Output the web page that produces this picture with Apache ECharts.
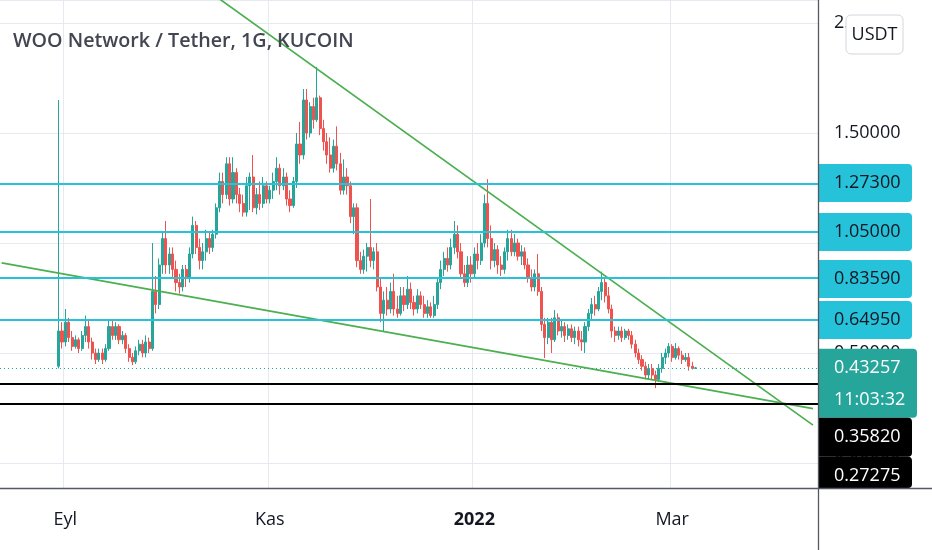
<!DOCTYPE html>
<html><head><meta charset="utf-8">
<script src="https://cdn.jsdelivr.net/npm/echarts@6/dist/echarts.min.js"></script>
<style>html,body{margin:0;padding:0;background:#fff;overflow:hidden}#c{width:932px;height:550px}</style>
</head><body><div id="c"></div>
<script>
const titleText = 'WOO Network / Tether, 1G, KUCOIN';
const axisStart = '2021-08-13';
const axisDays = 244;
const firstCandle = '2021-08-30';
// [open, close, low, high]
const ohlcAug = [[0.44,0.60,0.43,1.65],[0.60,0.55,0.52,0.64]];
const ohlcSep = [
[0.55,0.64,0.53,0.70],[0.64,0.57,0.55,0.66],[0.57,0.53,0.51,0.60],[0.53,0.56,0.52,0.58],[0.56,0.52,0.50,0.57],
[0.52,0.58,0.51,0.60],[0.58,0.62,0.55,0.67],[0.62,0.55,0.52,0.65],[0.55,0.50,0.47,0.57],[0.50,0.47,0.45,0.52],
[0.47,0.50,0.46,0.52],[0.50,0.47,0.45,0.52],[0.47,0.52,0.46,0.54],[0.52,0.62,0.51,0.65],[0.62,0.58,0.56,0.65],
[0.58,0.62,0.56,0.64],[0.62,0.56,0.54,0.63],[0.56,0.58,0.54,0.60],[0.58,0.52,0.50,0.59],[0.52,0.48,0.46,0.54],
[0.48,0.46,0.445,0.50],[0.46,0.51,0.45,0.53],[0.51,0.54,0.49,0.56],[0.54,0.50,0.48,0.56],[0.50,0.55,0.48,0.58],
[0.55,0.52,0.50,0.57],[0.52,0.78,0.51,1.00],[0.78,0.72,0.68,0.85],[0.72,0.90,0.70,0.93],[0.90,1.02,0.86,1.05]];
const ohlcOct = [
[1.02,0.90,0.86,1.10],[0.90,0.95,0.86,0.98],[0.95,0.88,0.84,0.98],[0.88,0.82,0.78,0.92],[0.82,0.80,0.77,0.86],
[0.80,0.88,0.78,0.90],[0.88,0.84,0.80,0.90],[0.84,0.95,0.82,0.98],[0.95,1.08,0.93,1.12],[1.08,0.98,0.95,1.10],
[0.98,0.92,0.88,1.02],[0.92,0.96,0.88,1.00],[0.96,1.02,0.92,1.06],[1.02,0.98,0.95,1.05],[0.98,1.04,0.96,1.06],
[1.04,1.16,1.02,1.18],[1.16,1.28,1.14,1.32],[1.28,1.22,1.18,1.32],[1.22,1.36,1.20,1.39],[1.36,1.20,1.17,1.39],
[1.20,1.32,1.18,1.39],[1.32,1.22,1.18,1.34],[1.22,1.18,1.14,1.25],[1.18,1.14,1.12,1.22],[1.14,1.26,1.12,1.30],
[1.26,1.30,1.15,1.32],[1.30,1.16,1.14,1.40],[1.16,1.22,1.13,1.25],[1.22,1.18,1.15,1.28],[1.18,1.26,1.16,1.30],
[1.26,1.20,1.18,1.28]];
const ohlcNov = [
[1.20,1.24,1.18,1.26],[1.24,1.28,1.20,1.32],[1.28,1.34,1.24,1.39],[1.34,1.26,1.22,1.36],[1.26,1.30,1.24,1.34],
[1.30,1.20,1.17,1.32],[1.20,1.17,1.14,1.24],[1.17,1.28,1.16,1.30],[1.28,1.45,1.25,1.50],[1.45,1.40,1.36,1.55],
[1.40,1.65,1.38,1.70],[1.65,1.50,1.47,1.70],[1.50,1.62,1.48,1.64],[1.62,1.56,1.52,1.66],[1.56,1.66,1.55,1.80],
[1.66,1.52,1.49,1.67],[1.52,1.46,1.42,1.56],[1.46,1.40,1.36,1.50],[1.40,1.34,1.32,1.48],[1.34,1.44,1.32,1.47],
[1.44,1.36,1.33,1.53],[1.36,1.24,1.22,1.41],[1.24,1.30,1.22,1.38],[1.30,1.26,1.22,1.34],[1.26,1.12,1.09,1.28],
[1.12,1.16,1.04,1.18],[1.16,0.92,0.89,1.18],[0.92,0.88,0.86,0.96],[0.88,0.94,0.86,0.97],[0.94,0.98,0.87,1.00]];
const ohlcDec = [
[0.98,0.92,0.89,1.20],[0.92,0.96,0.88,0.98],[0.96,0.80,0.78,1.00],[0.80,0.68,0.64,0.84],[0.68,0.74,0.60,0.78],
[0.74,0.70,0.67,0.80],[0.70,0.78,0.68,0.82],[0.78,0.70,0.67,0.86],[0.70,0.68,0.66,0.76],[0.68,0.76,0.67,0.80],
[0.76,0.72,0.69,0.80],[0.72,0.79,0.70,0.85],[0.79,0.73,0.70,0.82],[0.73,0.70,0.67,0.76],[0.70,0.76,0.68,0.79],
[0.76,0.72,0.70,0.78],[0.72,0.68,0.66,0.76],[0.68,0.71,0.66,0.74],[0.71,0.67,0.66,0.73],[0.67,0.72,0.66,0.76],
[0.72,0.82,0.70,0.84],[0.82,0.88,0.79,0.92],[0.88,0.93,0.85,0.96],[0.93,0.90,0.87,0.98],[0.90,0.98,0.88,1.02],
[0.98,1.04,0.95,1.10],[1.04,0.96,0.93,1.08],[0.96,0.86,0.84,1.00],[0.86,0.82,0.80,0.90],[0.82,0.90,0.80,0.94],
[0.90,0.86,0.82,0.94]];
const ohlcJan = [
[0.86,0.95,0.84,0.98],[0.95,0.92,0.88,1.00],[0.92,1.00,0.90,1.04],[1.00,1.18,0.98,1.22],[1.18,1.02,0.98,1.29],
[1.02,0.92,0.88,1.08],[0.92,0.97,0.89,1.00],[0.97,0.90,0.86,0.99],[0.90,0.88,0.85,0.94],[0.88,0.96,0.86,0.98],
[0.96,1.02,0.92,1.06],[1.02,0.96,0.94,1.06],[0.96,1.00,0.94,1.04],[1.00,0.94,0.92,1.02],[0.94,0.96,0.90,0.99],
[0.96,0.90,0.88,0.98],[0.90,0.84,0.82,0.93],[0.84,0.80,0.78,0.88],[0.80,0.86,0.78,0.88],[0.86,0.78,0.76,0.95],
[0.78,0.63,0.60,0.80],[0.63,0.57,0.477,0.66],[0.57,0.64,0.54,0.66],[0.64,0.56,0.50,0.66],[0.56,0.66,0.55,0.695],
[0.66,0.60,0.58,0.68],[0.60,0.62,0.57,0.65],[0.62,0.58,0.55,0.64],[0.58,0.61,0.56,0.63],[0.61,0.57,0.55,0.63],
[0.57,0.60,0.54,0.62]];
const ohlcFeb = [
[0.60,0.56,0.53,0.62],[0.56,0.55,0.51,0.60],[0.55,0.62,0.50,0.64],[0.62,0.68,0.60,0.70],[0.68,0.72,0.65,0.75],
[0.72,0.70,0.67,0.76],[0.70,0.78,0.69,0.80],[0.78,0.82,0.74,0.87],[0.82,0.76,0.73,0.84],[0.76,0.70,0.68,0.80],
[0.70,0.60,0.57,0.72],[0.60,0.58,0.55,0.62],[0.58,0.60,0.56,0.62],[0.60,0.57,0.55,0.62],[0.57,0.60,0.56,0.61],
[0.60,0.58,0.56,0.61],[0.58,0.54,0.52,0.60],[0.54,0.50,0.48,0.56],[0.50,0.47,0.45,0.52],[0.47,0.44,0.42,0.49],
[0.44,0.40,0.38,0.46],[0.40,0.43,0.38,0.45],[0.43,0.40,0.38,0.45],[0.40,0.38,0.34,0.42],[0.38,0.43,0.37,0.45],
[0.43,0.48,0.41,0.50],[0.48,0.50,0.45,0.52],[0.50,0.53,0.48,0.545]];
const ohlcMar = [
[0.53,0.48,0.46,0.54],[0.48,0.52,0.47,0.545],[0.52,0.49,0.47,0.53],[0.49,0.47,0.45,0.51],[0.47,0.48,0.46,0.50],
[0.48,0.44,0.42,0.50],[0.44,0.43,0.425,0.46],[0.43,0.43257,0.428,0.437]];

const xTicks = ['2021-09-01','2021-11-01','2022-01-01','2022-03-01'];
const xTickLabels = ['Eyl','Kas','2022','Mar'];
const boldTicks = ['2022'];
const yMin = -0.1136, yMax = 2.1045;
const cyanLevels = [1.273, 1.05, 0.8359, 0.6495];
const blackLevels = [0.3582, 0.27275];
const lastPrice = 0.43257;
const countdown = '11:03:32';
const currencyLabel = 'USDT';
const trendUpper = [['2021-10-17', 2.109], ['2022-04-12', 0.172]];
const trendLower = [['2021-08-13', 0.910], ['2022-04-12', 0.247]];

const UP = '#26a69a', DOWN = '#ef5350', CYAN = '#26c2d9', GREEN = '#4caf50', GRID = '#e6e9ef', TXT = '#131722';

// use a narrow face (closer to the reference's tall, condensed lettering) when one is installed
function hasFont(name) {
  const c = document.createElement('canvas').getContext('2d');
  const s = 'WOO 0.12345 Network';
  return ['monospace', 'serif'].some(fb => {
    c.font = '40px ' + fb; const a = c.measureText(s).width;
    c.font = '40px "' + name + '", ' + fb; const b = c.measureText(s).width;
    return Math.abs(a - b) > 0.5;
  });
}
const narrow = hasFont('Liberation Sans Narrow');
const F = narrow
  ? { fam: '"Liberation Sans Narrow", "Open Sans", sans-serif', title: 23, titleW: 'bold', num: 22, axis: 20, btn: 21 }
  : { fam: '"Open Sans", "Noto Sans", sans-serif', title: 19.7, titleW: 600, num: 18, axis: 18, btn: 18 };

function addDays(s, n) { const d = new Date(s + 'T00:00:00Z'); d.setUTCDate(d.getUTCDate() + n); return d.toISOString().slice(0, 10); }
const categories = [];
for (let i = 0; i < axisDays; i++) categories.push(addDays(axisStart, i));
const ohlc = [].concat(ohlcAug, ohlcSep, ohlcOct, ohlcNov, ohlcDec, ohlcJan, ohlcFeb, ohlcMar);
const candleData = ohlc.map((d, k) => [addDays(firstCandle, k), d[0], d[1], d[2], d[3]]);

const chart = echarts.init(document.getElementById('c'));
const tickSet = (i, v) => xTicks.indexOf(v) >= 0;

chart.setOption({
  animation: false,
  backgroundColor: '#fff',
  title: { text: titleText, left: 8, top: 36, textVerticalAlign: 'middle', textStyle: { fontFamily: F.fam, fontSize: F.title, fontWeight: F.titleW, color: '#434651' } },
  grid: { left: 0, right: 114, top: 0, bottom: 62, containLabel: false },
  xAxis: {
    type: 'category', data: categories, boundaryGap: true,
    axisLine: { show: false }, axisTick: { show: false },
    axisLabel: {
      interval: tickSet, margin: 32 - F.axis / 2, color: TXT, fontSize: F.axis, fontFamily: F.fam,
      formatter: v => { const l = xTickLabels[xTicks.indexOf(v)] || ''; return boldTicks.indexOf(l) >= 0 ? '{b|' + l + '}' : l; },
      rich: { b: { fontWeight: 'bold', fontSize: F.axis, fontFamily: F.fam, color: TXT } }
    },
    splitLine: { show: true, interval: tickSet, lineStyle: { color: GRID, width: 1 } }
  },
  yAxis: {
    type: 'value', position: 'right', min: yMin, max: yMax, splitNumber: 4,
    axisLine: { show: false }, axisTick: { show: false },
    axisLabel: { showMinLabel: false, showMaxLabel: false, formatter: v => v.toFixed(5), margin: 16, color: TXT, fontSize: F.num, fontFamily: F.fam },
    splitLine: { lineStyle: { color: GRID, width: 1 } }
  },
  series: [
    {
      type: 'candlestick', data: candleData, encode: { x: 0, y: [1, 2, 3, 4] }, barWidth: 2.6,
      itemStyle: { color: UP, color0: DOWN, borderColor: UP, borderColor0: DOWN, borderWidth: 1 },
      markLine: {
        silent: true, symbol: ['none', 'none'], label: { show: false }, animation: false,
        data: [].concat(
          cyanLevels.map(v => ({ yAxis: v, lineStyle: { color: CYAN, width: 2, type: 'solid' } })),
          blackLevels.map(v => ({ yAxis: v, lineStyle: { color: '#000', width: 2, type: 'solid' } })),
          [{ yAxis: lastPrice, lineStyle: { color: UP, width: 1, type: [1, 3] } }]
        )
      }
    },
    { type: 'line', data: trendUpper, showSymbol: false, silent: true, clip: true, lineStyle: { color: GREEN, width: 1.7 } },
    { type: 'line', data: trendLower, showSymbol: false, silent: true, clip: true, lineStyle: { color: GREEN, width: 1.7 } }
  ]
});

// price-scale labels (boxes) placed with the chart's own y scale
const rect = chart.getModel().getComponent('grid', 0).coordinateSystem.getRect();
const axisX = rect.x + rect.width;
const plotBottom = rect.y + rect.height;
const W = chart.getWidth(), H = chart.getHeight();
const yOf = v => chart.convertToPixel({ yAxisIndex: 0 }, v);

const labels = [].concat(
  cyanLevels.map(v => ({ v, fill: CYAN, color: TXT, w: 94, h: 38, lines: [v.toFixed(5)] })),
  [{ v: lastPrice, fill: UP, color: '#fff', w: 99, h: 69, lines: [lastPrice.toFixed(5), countdown], anchor: 19 }],
  blackLevels.map(v => ({ v, fill: '#000', color: '#fff', w: 94, h: 39, lines: [v.toFixed(5)] }))
).sort((a, b) => b.v - a.v);

const g = [];
let prevBottom = -Infinity;
labels.forEach(L => {
  const py = yOf(L.v);
  let top = py - (L.anchor != null ? L.anchor : L.h / 2);
  if (top < prevBottom) top = prevBottom;
  prevBottom = top + L.h;
  const hh = Math.min(L.h, plotBottom - top);
  g.push({ type: 'rect', z: 100, shape: { x: axisX, y: top, width: L.w, height: hh, r: [0, 4, 4, 0] }, style: { fill: L.fill } });
  L.lines.forEach((t, k) => {
    const cy = L.lines.length === 1 ? top + L.h / 2 : top + L.anchor + k * 32;
    g.push({ type: 'text', z: 101, x: axisX + 16, y: cy, style: { text: t, fill: L.color, fontSize: F.num, fontFamily: F.fam, verticalAlign: 'middle', textVerticalAlign: 'middle' } });
  });
});
// currency button
g.push({ type: 'rect', z: 100, shape: { x: axisX + 28, y: 15, width: 57, height: 39, r: 5 }, style: { fill: '#fff', stroke: '#d4d6dc', lineWidth: 1 } });
g.push({ type: 'text', z: 101, x: axisX + 28 + 28.5, y: 35, style: { text: currencyLabel, fill: TXT, fontSize: F.btn, fontFamily: F.fam, align: 'center', textAlign: 'center', verticalAlign: 'middle', textVerticalAlign: 'middle' } });
// frame lines
g.push({ type: 'line', z: 102, shape: { x1: axisX + 0.5, y1: 0, x2: axisX + 0.5, y2: H }, style: { stroke: '#555860', lineWidth: 1.3 } });
g.push({ type: 'line', z: 102, shape: { x1: 0, y1: plotBottom + 0.5, x2: W, y2: plotBottom + 0.5 }, style: { stroke: '#555860', lineWidth: 1.3 } });
chart.setOption({ graphic: g });
</script></body></html>
